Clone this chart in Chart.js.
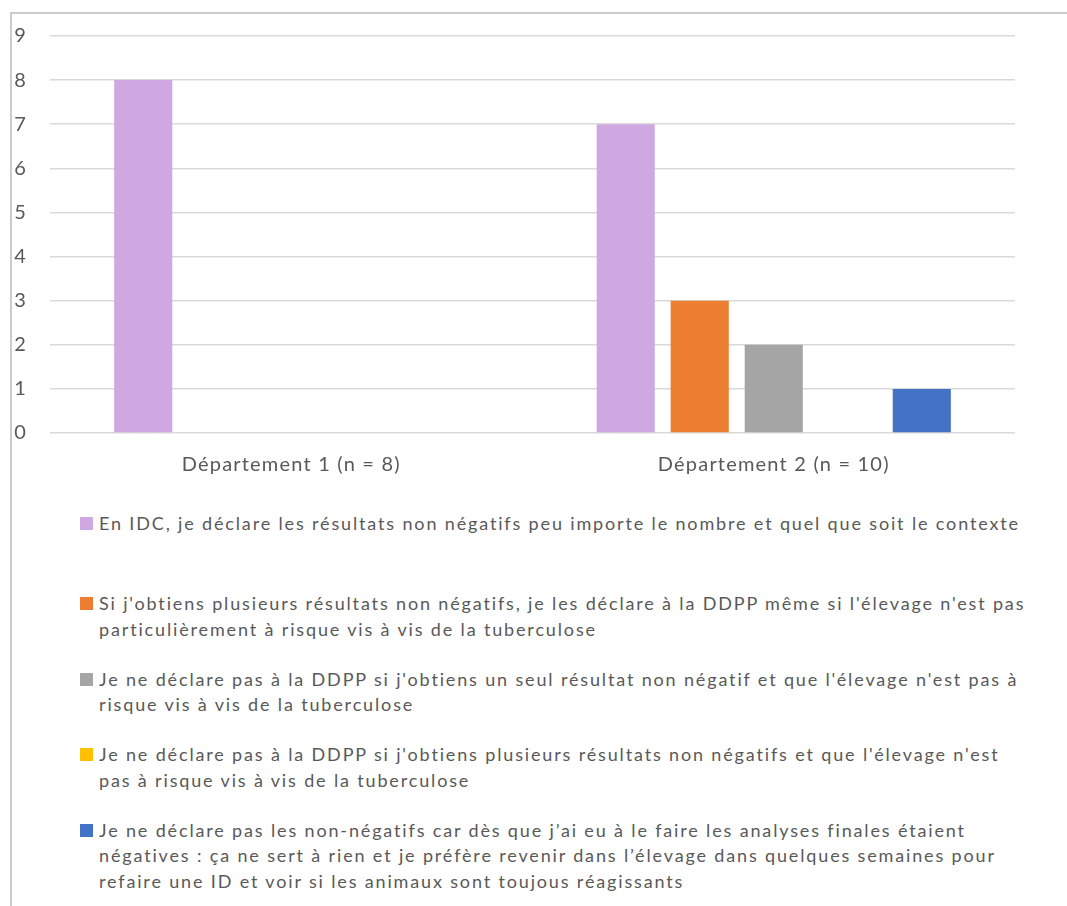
<!DOCTYPE html>
<html>
<head>
<meta charset="utf-8">
<script src="https://cdn.jsdelivr.net/npm/chart.js@4.4.1/dist/chart.umd.min.js"></script>
<style>
  html, body { margin: 0; padding: 0; background: #fff; }
  body { width: 1067px; height: 906px; position: relative; overflow: hidden;
         font-family: Lato, "Open Sans", sans-serif; color: #595959; }
  #frame { position: absolute; left: 10px; top: 12px; width: 1100px; height: 1000px;
           border-top: 2px solid #cbcbcb; border-left: 2px solid #cbcbcb; }
  #wrap { position: absolute; left: 0; top: 0; width: 1067px; height: 490px; }
  #legend { position: absolute; left: 80px; top: 511px; width: 985px;
            font-size: 18px; line-height: 25.5px; letter-spacing: 1.85px; white-space: nowrap; }
  .item { position: relative; padding-left: 19px; min-height: 51px; margin-bottom: 24.5px; }
  .item:first-child { margin-bottom: 29px; }
  .box { position: absolute; left: 0; top: 6px; width: 13px; height: 13px; }
</style>
</head>
<body>
<div id="frame"></div>
<div id="wrap"><canvas id="chart"></canvas></div>
<div id="legend"></div>
<script>
'use strict';

const categories = ['Département 1 (n = 8)', 'Département 2 (n = 10)'];

const seriesLabels = [
    ['En IDC, je déclare les résultats non négatifs peu importe le nombre et quel que soit le contexte'],
    ['Si j\'obtiens plusieurs résultats non négatifs, je les déclare à la DDPP même si l\'élevage n\'est pas',
     'particulièrement à risque vis à vis de la tuberculose'],
    ['Je ne déclare pas à la DDPP si j\'obtiens un seul résultat non négatif et que l\'élevage n\'est pas à',
     'risque vis à vis de la tuberculose'],
    ['Je ne déclare pas à la DDPP si j\'obtiens plusieurs résultats non négatifs et que l\'élevage n\'est',
     'pas à risque vis à vis de la tuberculose'],
    ['Je ne déclare pas les non-négatifs car dès que j\u2019ai eu à le faire les analyses finales étaient',
     'négatives : ça ne sert à rien et je préfère revenir dans l\u2019élevage dans quelques semaines pour',
     'refaire une ID et voir si les animaux sont toujous réagissants']
];

const declareAll     = [8, 7];
const declareSevral  = [0, 3];
const noDeclareOne   = [0, 2];
const noDeclareMany  = [0, 0];
const noDeclareNever = [0, 1];

const seriesColors = ['#cfa8e1', '#ed7d31', '#a5a5a5', '#ffc000', '#4472c4'];
const seriesValues = [declareAll, declareSevral, noDeclareOne, noDeclareMany, noDeclareNever];

const yTicks = [0, 1, 2, 3, 4, 5, 6, 7, 8, 9];

const font = { family: 'Lato, "Open Sans", sans-serif', size: 20 };

// espacement des lettres comme dans l'original (canvas)
const spacing = {
    id: 'spacing',
    beforeDraw: (c) => { c.ctx.letterSpacing = '1.2px'; }
};

new Chart(document.getElementById('chart').getContext('2d'), {
    type: 'bar',
    data: {
        labels: categories,
        datasets: seriesValues.map((vals, i) => ({
            label: seriesLabels[i].join(' '),
            data: vals,
            backgroundColor: seriesColors[i],
            borderWidth: 0,
            barPercentage: 0.785,
            categoryPercentage: 0.767
        }))
    },
    options: {
        animation: false,
        responsive: true,
        maintainAspectRatio: false,
        layout: { padding: { top: 36, right: 52, bottom: 0, left: 0 } },
        plugins: { legend: { display: false }, tooltip: { enabled: false } },
        scales: {
            x: {
                grid: { display: false, drawTicks: false },
                border: { display: false },
                ticks: { color: '#595959', font: font, padding: 20 },
                afterFit: (s) => { s.height = 57; }
            },
            y: {
                min: 0, max: 9,
                afterBuildTicks: (s) => { s.ticks = yTicks.map(v => ({ value: v })); },
                grid: { color: '#d9d9d9', lineWidth: 1.6, drawTicks: false },
                border: { display: false },
                ticks: { color: '#595959', font: font, padding: 23 },
                afterFit: (s) => { s.width = 50; }
            }
        }
    },
    plugins: [spacing]
});

// légende HTML : Chart.js ne sait pas couper les libellés longs
const legendEl = document.getElementById('legend');
seriesLabels.forEach((lines, i) => {
    const item = document.createElement('div');
    item.className = 'item';
    const box = document.createElement('span');
    box.className = 'box';
    box.style.background = seriesColors[i];
    item.appendChild(box);
    lines.forEach(t => {
        const l = document.createElement('div');
        l.textContent = t;
        item.appendChild(l);
    });
    legendEl.appendChild(item);
});
</script>
</body>
</html>
